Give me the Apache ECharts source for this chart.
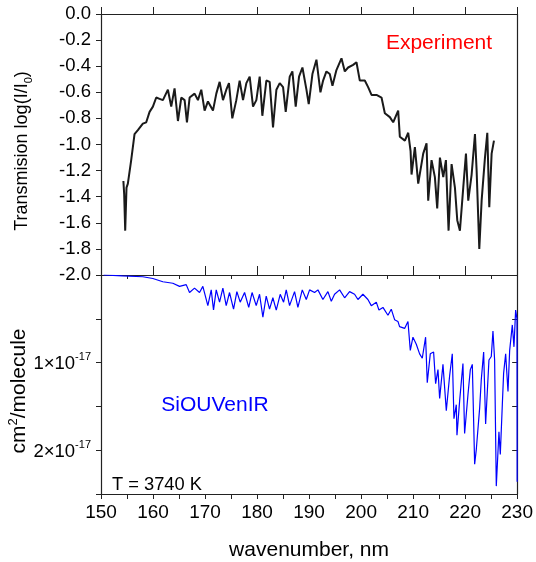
<!DOCTYPE html>
<html>
<head>
<meta charset="utf-8">
<script src="https://cdn.jsdelivr.net/npm/echarts@6/dist/echarts.min.js"></script>
<style>html,body{margin:0;padding:0;background:#fff;}#c{width:536px;height:562px;}</style>
</head>
<body>
<div id="c"></div>
<script>
// Top panel: experiment, log(I/I0)
const topNm = [154.3,154.45,154.65,154.9,155.16,155.8,156.44,157.08,158.04,158.69,159.33,159.97,160.61,161.25,161.89,162.85,163.49,164.13,164.78,165.42,166.06,166.51,167.02,167.98,168.62,169.26,169.9,170.54,171.51,172.15,172.79,173.43,174.07,174.58,175.22,175.99,176.63,177.28,177.92,178.56,179.2,179.84,180.48,180.99,181.76,182.4,183.04,183.69,184.33,184.97,185.48,186.25,186.76,187.4,188.04,188.69,189.46,189.9,190.61,191.38,192.15,192.66,193.3,193.94,194.46,195.22,196.19,196.83,197.47,198.43,199.07,199.71,200.67,201.31,201.96,202.92,203.88,204.52,205.48,206.12,207.08,207.4,208.37,209.01,209.46,209.65,210.29,210.93,211.89,212.53,212.85,213.49,214.13,214.58,215.1,215.74,216.25,216.76,217.34,217.98,218.43,218.94,219.58,220.1,220.54,221.19,221.83,222.15,222.66,223.11,223.75,224.2,224.58,225.03,225.48];
const topVal = [-1.28,-1.38,-1.66,-1.33,-1.30,-1.12,-0.92,-0.89,-0.84,-0.83,-0.75,-0.71,-0.64,-0.65,-0.66,-0.58,-0.71,-0.57,-0.82,-0.64,-0.66,-0.83,-0.64,-0.61,-0.66,-0.58,-0.74,-0.67,-0.74,-0.61,-0.52,-0.66,-0.58,-0.53,-0.80,-0.66,-0.51,-0.66,-0.53,-0.48,-0.71,-0.66,-0.48,-0.78,-0.51,-0.52,-0.87,-0.58,-0.53,-0.56,-0.75,-0.48,-0.44,-0.71,-0.48,-0.41,-0.58,-0.69,-0.46,-0.35,-0.60,-0.51,-0.44,-0.46,-0.55,-0.43,-0.34,-0.44,-0.41,-0.39,-0.37,-0.51,-0.51,-0.56,-0.62,-0.62,-0.64,-0.76,-0.79,-0.83,-0.74,-0.94,-0.97,-0.91,-1.05,-1.23,-1.02,-1.30,-1.07,-0.99,-1.43,-1.12,-1.25,-1.49,-1.10,-1.25,-1.12,-1.66,-1.15,-1.33,-1.58,-1.66,-1.33,-1.07,-1.43,-1.23,-0.92,-1.20,-1.80,-1.43,-1.10,-0.91,-1.48,-1.07,-0.97];

// Bottom panel: SiOUVenIR cross section, units of 1e-17 cm2/molecule
const botNm = [150.5,154.1,158.04,159.97,161.89,163.81,165.1,166.38,167.02,167.98,168.94,169.58,170.54,171.19,171.63,172.15,172.79,173.43,174.07,174.71,175.48,176.12,176.76,177.6,178.4,179.04,179.84,180.48,181.12,181.76,182.4,183.04,183.69,184.45,185.1,185.61,186.25,187.21,187.85,188.69,189.46,190.1,191.06,191.7,192.66,193.62,194.27,194.9,195.87,196.83,197.79,198.75,199.39,200.35,201.31,201.96,202.92,203.43,204.2,205.16,205.8,206.44,207.08,207.4,208.37,209.01,209.46,209.97,210.61,211.25,211.76,212.4,212.72,213.3,213.94,214.33,214.78,215.1,215.74,216.38,217.02,217.53,217.85,218.3,218.43,218.94,219.58,219.9,220.54,221.0,221.38,221.83,222.15,222.79,223.11,223.56,223.94,224.58,225.03,225.35,225.67,225.99,226.5,226.76,227.15,227.4,227.79,228.24,228.56,229.07,229.39,229.71,229.97,230.0];
const botVal = [0.0,0.01,0.02,0.04,0.077,0.094,0.13,0.11,0.20,0.15,0.20,0.13,0.35,0.17,0.40,0.17,0.31,0.15,0.35,0.20,0.39,0.19,0.31,0.20,0.37,0.20,0.35,0.22,0.48,0.24,0.39,0.26,0.40,0.22,0.31,0.17,0.35,0.19,0.37,0.17,0.28,0.17,0.20,0.17,0.28,0.19,0.30,0.22,0.17,0.26,0.19,0.22,0.28,0.22,0.28,0.35,0.31,0.40,0.37,0.46,0.39,0.51,0.53,0.59,0.61,0.53,0.86,0.71,0.79,0.90,0.95,0.71,1.23,0.90,0.88,1.24,1.08,1.41,1.02,1.55,1.15,0.90,1.64,1.48,1.83,1.44,1.01,1.81,1.37,1.08,1.02,2.16,1.99,1.52,1.19,0.88,1.70,0.97,0.93,0.64,0.97,2.41,1.79,2.05,1.48,1.12,0.90,1.33,0.86,0.57,0.82,0.40,0.50,2.36];

const xTicks = [150,160,170,180,190,200,210,220,230];
const topYTicks = [0,-0.2,-0.4,-0.6,-0.8,-1.0,-1.2,-1.4,-1.6,-1.8,-2.0];
const botYLabels = {1:'1×10', 2:'2×10'};

const FONT = '"Liberation Sans", Arial, sans-serif';
const AX = '#222';

const chart = echarts.init(document.getElementById('c'), null, {renderer:'canvas'});
const gridL = 101, gridR = 18.5;
const xBase = {type:'value', min:xTicks[0], max:xTicks[xTicks.length-1], interval:10, splitLine:{show:false}};
const lineCol = {lineStyle:{color:AX, width:1.2}};

chart.setOption({
  backgroundColor:'#fff',
  animation:false,
  grid:[
    {left:gridL, right:gridR, top:14, height:261},
    {left:gridL, right:gridR, top:275, height:228}
  ],
  xAxis:[
    Object.assign({}, xBase, {gridIndex:0, position:'bottom', axisLine:Object.assign({onZero:false}, lineCol), axisTick:{inside:true, length:9, lineStyle:{color:AX}}, axisLabel:{show:false}}),
    Object.assign({}, xBase, {gridIndex:0, position:'top', axisLine:Object.assign({onZero:false}, lineCol), axisTick:{inside:false, length:7, lineStyle:{color:AX}}, axisLabel:{show:false}}),
    Object.assign({}, xBase, {gridIndex:1, position:'bottom', name:'wavenumber, nm', nameLocation:'middle', nameGap:46,
      nameTextStyle:{fontFamily:FONT, fontSize:21, color:'#000'},
      axisLine:Object.assign({onZero:false}, lineCol), axisTick:{inside:false, length:5, lineStyle:{color:AX}},
      minorTick:{show:true, splitNumber:2, length:5, lineStyle:{color:AX}},
      axisLabel:{fontFamily:FONT, fontSize:19, color:'#000', margin:9}}),
    Object.assign({}, xBase, {gridIndex:1, position:'top', axisLine:Object.assign({onZero:false}, lineCol), axisTick:{show:false, inside:true}, minorTick:{show:true, splitNumber:2, length:4, lineStyle:{color:AX}}, axisLabel:{show:false}})
  ],
  yAxis:[
    {type:'value', gridIndex:0, position:'left', min:topYTicks[topYTicks.length-1], max:topYTicks[0], interval:0.2, splitLine:{show:false},
      axisLine:Object.assign({onZero:false}, lineCol), axisTick:{inside:false, length:5, lineStyle:{color:AX}},
      axisLabel:{fontFamily:FONT, fontSize:18.5, color:'#000', margin:10, formatter:v=>v.toFixed(1)}},
    {type:'value', gridIndex:0, position:'right', min:-2, max:0, splitLine:{show:false},
      axisLine:Object.assign({onZero:false}, lineCol), axisTick:{show:false}, axisLabel:{show:false}},
    {type:'value', gridIndex:1, position:'left', min:0, max:2.5, interval:0.5, inverse:true, splitLine:{show:false},
      axisLine:Object.assign({onZero:false}, lineCol), axisTick:{inside:false, length:5, lineStyle:{color:AX}},
      axisLabel:{fontFamily:FONT, color:'#000', margin:10,
        formatter:v=>{const k=Math.round(v*2)/2; return (botYLabels[k] && Math.abs(v-k)<1e-9) ? '{n|'+botYLabels[k]+'}{s|-17}' : '';},
        rich:{n:{fontFamily:FONT, fontSize:18.5, color:'#000', lineHeight:22, verticalAlign:'bottom'}, s:{fontFamily:FONT, fontSize:11, color:'#000', lineHeight:22, verticalAlign:'top'}}}},
    {type:'value', gridIndex:1, position:'right', min:0, max:2.5, interval:0.5, inverse:true, splitLine:{show:false},
      axisLine:Object.assign({onZero:false}, lineCol), axisTick:{inside:true, length:5, lineStyle:{color:AX}}, axisLabel:{show:false}}
  ],
  series:[
    {type:'line', xAxisIndex:0, yAxisIndex:0, showSymbol:false, symbol:'none', lineStyle:{color:'#1a1a1a', width:2}, data:topNm.map((x,i)=>[x, topVal[i]])},
    {type:'line', xAxisIndex:2, yAxisIndex:2, showSymbol:false, symbol:'none', lineStyle:{color:'#0000ff', width:1.2}, data:botNm.map((x,i)=>[x, botVal[i]])}
  ],
  graphic:[
    {type:'text', x:22, y:151, rotation:Math.PI/2, style:{text:'Transmision log(I/I{sub|0})', align:'center', verticalAlign:'middle', fontFamily:FONT, fontSize:18, fill:'#000',
      rich:{sub:{fontFamily:FONT, fontSize:11, fill:'#000', verticalAlign:'bottom', lineHeight:24}}}},
    {type:'text', x:19, y:391, rotation:Math.PI/2, style:{text:'cm{sup|2}/molecule', align:'center', verticalAlign:'middle', fontFamily:FONT, fontSize:21, fill:'#000',
      rich:{sup:{fontFamily:FONT, fontSize:13, fill:'#000', verticalAlign:'top', lineHeight:24}}}},
    {type:'text', x:439, y:43, style:{text:'Experiment', align:'center', verticalAlign:'middle', fontFamily:FONT, fontSize:21, fill:'#ff0000'}},
    {type:'text', x:215, y:405, style:{text:'SiOUVenIR', align:'center', verticalAlign:'middle', fontFamily:FONT, fontSize:21, fill:'#0000ff'}},
    {type:'text', x:112, y:485, style:{text:'T = 3740 K', align:'left', verticalAlign:'middle', fontFamily:FONT, fontSize:18.3, fill:'#000'}}
  ]
});
</script>
</body>
</html>
